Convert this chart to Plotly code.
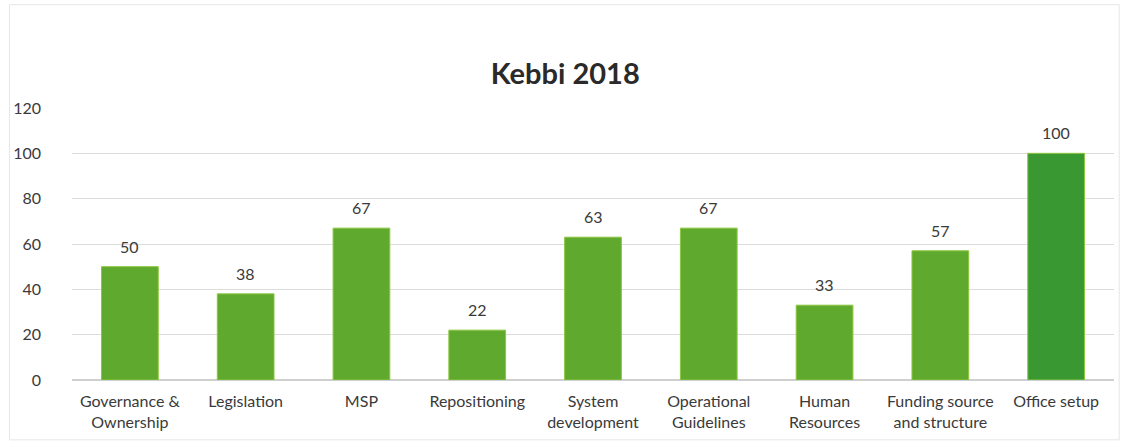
import plotly.graph_objects as go

categories = [
    "Governance &<br>Ownership", "Legislation", "MSP", "Repositioning",
    "System<br>development", "Operational<br>Guidelines", "Human<br>Resources",
    "Funding source<br>and structure", "Office setup",
]
scores = [50, 38, 67, 22, 63, 67, 33, 57, 100]
y_ticks = [0, 20, 40, 60, 80, 100, 120]

bar_colors = ["#5faa2e"] * 8 + ["#3a9832"]
text_color = "#3a3a3a"
font_family = "Lato, Open Sans, sans-serif"

fig = go.Figure(
    go.Bar(
        x=categories,
        y=scores,
        marker=dict(color=bar_colors, line=dict(color="#8cc63f", width=1)),
        width=0.49,
        cliponaxis=False,
    )
)

# value labels floating above each bar
for cat, val in zip(categories, scores):
    fig.add_annotation(
        x=cat, y=val, text=str(val), showarrow=False,
        yanchor="bottom", yshift=9,
        font=dict(family=font_family, size=16, color=text_color),
    )

fig.update_layout(
    width=1126,
    height=446,
    margin=dict(l=72, r=12, t=108, b=66),
    paper_bgcolor="white",
    plot_bgcolor="white",
    showlegend=False,
    title=dict(
        text="<b>Kebbi 2018</b>",
        x=0.502,
        xanchor="center",
        y=0.835,
        yanchor="middle",
        font=dict(family=font_family, size=29, color="#2a2a2a"),
    ),
    font=dict(family=font_family, size=16, color=text_color),
)

fig.update_xaxes(
    showgrid=False,
    showline=False,
    ticks="",
    ticklabelstandoff=10,
    tickfont=dict(size=16, color=text_color),
)
fig.update_yaxes(
    range=[0, 120],
    tickvals=y_ticks,
    showgrid=True,
    gridcolor="#dcdcdc",
    gridwidth=1,
    zeroline=True,
    zerolinecolor="#cfcfcf",
    ticks="",
    ticklabelstandoff=30,
    tickfont=dict(size=16, color=text_color),
)

# faint outer frame of the chart area
fig.add_shape(
    type="rect", xref="paper", yref="paper",
    x0=-0.06, x1=1.005, y0=-0.22, y1=1.38,
    line=dict(color="#e6e6e6", width=1),
)

fig.write_html("out.html")
